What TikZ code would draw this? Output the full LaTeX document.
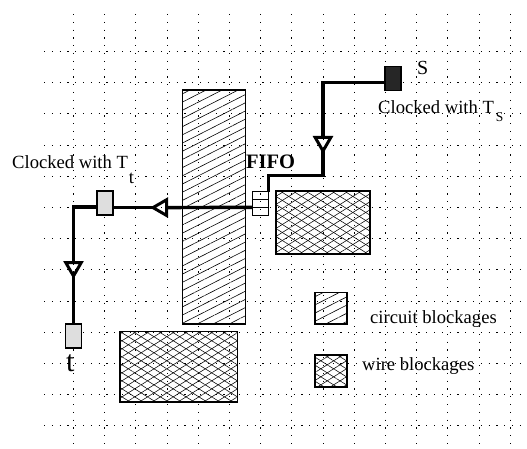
\documentclass[tikz,border=0pt]{standalone}
\usepackage{fontspec}
\setmainfont{Liberation Serif}
\usetikzlibrary{patterns.meta}
\usetikzlibrary{shapes.geometric}
\tikzset{>=latex}
\begin{document}
\begin{tikzpicture}[x=1pt,y=-1pt,font=\fontsize{18.6}{20}\selectfont]
  \tikzstyle{box}=[draw,line width=1.6pt,inner sep=0,outer sep=0]
  \tikzstyle{circuit}=[box,postaction={pattern={Lines[angle=27,distance=7.3pt,line width=.6pt]}}]
  \tikzstyle{blockage}=[box,postaction={pattern={Lines[angle=32,distance=6.8pt,line width=.55pt]}},
    postaction={pattern={Lines[angle=-32,distance=6.8pt,line width=.55pt]}}]
  \tikzstyle{pin}=[box,line width=1.3pt,minimum width=16pt,minimum height=24pt]
  \tikzstyle{cell}=[box,line width=1.2pt,minimum width=16.2pt,minimum height=7.8pt]
  \tikzstyle{buffer}=[draw,line width=3pt,regular polygon,regular polygon sides=3,minimum size=18pt,inner sep=0,outer sep=0]
  \tikzstyle{wire}=[line width=3.4pt]
  \tikzstyle{dots}=[line width=.9pt,dash pattern=on 1.2pt off 6.6pt]
  \useasboundingbox (0,0) rectangle (527,449);
  %grid
  \foreach \i in {0,...,14} \draw[dots] (73.5+31.2*\i,14) -- (73.5+31.2*\i,449);
  \foreach \j in {0,...,12} \draw[dots] (44,51.5+31.2*\j) -- (527,51.5+31.2*\j);
  %blockages
  \node[circuit,minimum width=63pt,minimum height=234pt] (cb) at (214,207) {};
  \node[blockage,minimum width=94pt,minimum height=63pt] (wb1) at (323,222.5) {};
  \node[blockage,minimum width=117.5pt,minimum height=70.5pt] (wb2) at (178.7,366.8) {};
  \node[circuit,minimum width=32pt,minimum height=31.5pt] (lc) at (330.7,308.3) {};
  \node[blockage,minimum width=32pt,minimum height=32pt] (lw) at (330.7,370.7) {};
  %pins and fifo
  \node[pin,fill=black!85] (s) at (393,78.7) {};
  \node[pin,fill=black!13] (t1) at (105,203) {};
  \node[pin,fill=black!13] (t2) at (73.5,336) {};
  \node[cell] (fa) at (260.4,195.6) {};
  \node[cell] (fb) at (260.4,203.4) {};
  \node[cell] (fc) at (260.4,211.2) {};
  %buffers
  \node[buffer,shape border rotate=180] (b1) at (323,142) {};
  \node[buffer,shape border rotate=90] (b2) at (162,207.6) {};
  \node[buffer,shape border rotate=180] (b3) at (73.5,267) {};
  %wires
  \coordinate (k1) at (323,82.5);
  \coordinate (k2) at (323,175.5);
  \coordinate (k3) at (73.5,207);
  \draw[wire] (s.west |- k1) -- (k1) -- (b1.north);
  \draw[wire] (b1.south) -- (k2) -| (fa.north east);
  \draw[wire] (fb.south west) -- (b2.east);
  \draw[wire] (b2.west) -- (t1.east |- b2);
  \draw[wire] (t1.west |- k3) -- (k3) -- (b3.north);
  \draw[wire] (b3.south) -- (t2.north);
  %labels
  \node[anchor=base west,inner sep=0] (ls) at (417,75) {\fontsize{20}{20}\selectfont S};
  \node[anchor=base west,inner sep=0] (lt) at (66,371) {\fontsize{30}{30}\selectfont t};
  \node[anchor=base west,inner sep=0] (lts) at (378,114) {Clocked with T\hspace{2pt}\raisebox{-8pt}{\fontsize{13.5}{14}\selectfont S}};
  \node[anchor=base west,inner sep=0] (ltt) at (12,168) {Clocked with T\hspace{1pt}\raisebox{-15pt}{t}};
  \node[anchor=base west,inner sep=0] (lf) at (246,168) {\fontsize{20.5}{20}\selectfont\bfseries FIFO};
  \node[anchor=base west,inner sep=0] (lcb) at (370,323) {circuit blockages};
  \node[anchor=base west,inner sep=0] (lwb) at (362,370) {wire blockages};
\end{tikzpicture}
\end{document}
